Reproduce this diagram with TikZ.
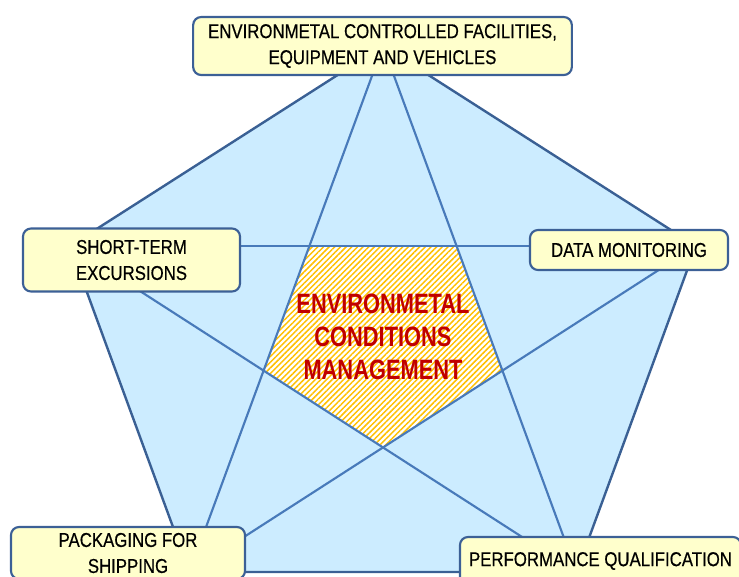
\documentclass[tikz,border=0pt]{standalone}
\usepackage{fontspec}
\setmainfont{Liberation Sans}
\newfontfamily\boxfont[FakeStretch=0.84, FakeBold=0.5]{Liberation Sans}
\newfontfamily\hubfont[FakeStretch=0.78]{Liberation Sans}
\usetikzlibrary{shapes, positioning, calc, patterns.meta}

\definecolor{penfill}{RGB}{204,236,255}
\definecolor{penedge}{RGB}{58,96,148}
\definecolor{starline}{RGB}{72,122,186}
\definecolor{boxfill}{RGB}{255,255,204}
\definecolor{boxedge}{RGB}{60,96,150}
\definecolor{hatch}{RGB}{255,192,0}
\definecolor{hubred}{RGB}{192,0,0}

\begin{document}
\begin{tikzpicture}[x=0.75pt, y=-0.75pt]
  \tikzstyle{topic} = [rectangle, rounded corners=6pt, draw=boxedge, line width=1.6pt, fill=boxfill, align=center, inner sep=0pt, font=\boxfont\fontsize{15}{19.5}\selectfont]
  \tikzstyle{hubtext} = [align=center, text=hubred, font=\hubfont\bfseries\fontsize{21}{25}\selectfont]
  \tikzstyle{edge} = [draw=penedge, line width=1.8pt, line join=round]
  \tikzstyle{star} = [draw=starline, line width=1.6pt]
  \useasboundingbox (0,0) rectangle (739,576);
  % outer pentagon corners
  \coordinate (vtop) at (383,46);
  \coordinate (vleft) at (70,246);
  \coordinate (vright) at (696,246);
  \coordinate (vbl) at (189.5,572);
  \coordinate (vbr) at (576.5,572);
  % inner pentagon where the star lines cross
  \coordinate (itl) at (intersection of vtop--vbl and vleft--vright);
  \coordinate (itr) at (intersection of vtop--vbr and vleft--vright);
  \coordinate (ir) at (intersection of vtop--vbr and vright--vbl);
  \coordinate (ib) at (intersection of vleft--vbr and vright--vbl);
  \coordinate (il) at (intersection of vtop--vbl and vleft--vbr);
  \fill [penfill] (vtop) -- (vright) -- (vbr) -- (vbl) -- (vleft) -- cycle;
  \fill [white] (itl) -- (itr) -- (ir) -- (ib) -- (il) -- cycle;
  \fill [pattern={Lines[angle=45, distance=3pt, line width=1.1pt]}, pattern color=hatch] (itl) -- (itr) -- (ir) -- (ib) -- (il) -- cycle;
  \draw [star] (vtop) -- (vbl);
  \draw [star] (vtop) -- (vbr);
  \draw [star] (vleft) -- (vright);
  \draw [star] (vleft) -- (vbr);
  \draw [star] (vright) -- (vbl);
  \draw [edge] (vtop) -- (vright) -- (vbr) -- (vbl) -- (vleft) -- cycle;
  \node (hub) [hubtext] at (383,337) {ENVIRONMETAL\\ CONDITIONS\\ MANAGEMENT};
  \node (facilities) [topic, minimum width=284pt, minimum height=43.5pt] at (382.5,46) {ENVIRONMETAL CONTROLLED FACILITIES,\\ EQUIPMENT AND VEHICLES};
  \node (excursions) [topic, minimum width=162.75pt, minimum height=47.25pt] at (131.5,260) {SHORT-TERM\\ EXCURSIONS};
  \node (monitoring) [topic, minimum width=148.5pt, minimum height=30pt] at (629,250) {DATA MONITORING};
  \node (packaging) [topic, minimum width=175.5pt, minimum height=39pt] at (128,553) {PACKAGING FOR\\ SHIPPING};
  \node (qualification) [topic, minimum width=210.75pt, minimum height=36pt] at (600.5,561) {PERFORMANCE QUALIFICATION};
\end{tikzpicture}
\end{document}
